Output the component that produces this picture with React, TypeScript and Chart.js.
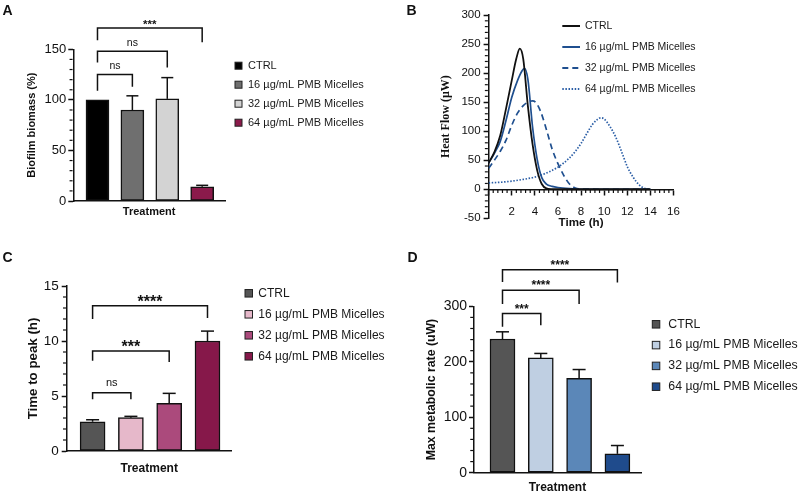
import React, { useEffect, useRef } from 'react';
import { Chart, registerables } from 'chart.js';

Chart.register(...registerables);

const FONT = "'Liberation Sans', Arial, Helvetica, sans-serif";
const SERIF = "'Liberation Serif', 'Times New Roman', serif";
const INK = '#111111';

// ---------- shared categories ----------
const categories = ['CTRL', '16 µg/mL PMB Micelles', '32 µg/mL PMB Micelles', '64 µg/mL PMB Micelles'];
const barX = [1, 2, 3, 4];

// ---------- Panel A: biofilm biomass ----------
const biomassMean = [100, 90, 101, 14];
const biomassSD = [0, 14, 21, 1.5];
const biomassColors = ['#000000', '#6f6f6f', '#d3d3d3', '#8b1a4b'];
const bracketTargetsA = [2, 3, 4];
const bracketLevelsA = [125, 148, 171];
const bracketLegLA = [109, 137, 159];
const bracketLegRA = [113, 132, 157];
const bracketLabelsA = ['ns', 'ns', '***'];
const ticksA = [0, 50, 100, 150];

// ---------- Panel B: heat flow curves ----------
const ctrlTime = [0, 0.5, 1.0, 1.5, 2.0, 2.4, 2.7, 3.0, 3.4, 3.8, 4.2, 4.6, 5.0, 5.5, 6, 8, 10, 12, 14];
const ctrlFlow = [45, 64, 92, 138, 187, 225, 242, 224, 143, 78, 33, 9, 1.5, 0.3, 0, 0, 0, 0, 0];
const pmb16Time = [0, 0.5, 1.0, 1.5, 2.0, 2.5, 2.9, 3.1, 3.4, 3.8, 4.2, 4.6, 5.0, 5.5, 6.0, 7.0, 8.0, 10, 12, 14];
const pmb16Flow = [45, 62, 82, 118, 158, 187, 204, 208, 189, 108, 52, 20, 9, 5, 3, 1, 0, 0, 0, 0];
const pmb32Time = [0, 0.5, 1.0, 1.5, 2.0, 2.5, 3.0, 3.5, 3.8, 4.1, 4.5, 5.0, 5.5, 6.0, 6.5, 7.0, 7.5, 8.0, 10, 12, 14];
const pmb32Flow = [36, 50, 65, 84, 110, 131, 144, 151, 152, 149, 134, 103, 69, 44, 24, 9, 2, 0.5, 0, 0, 0];
const pmb64Time = [0, 1, 2, 3, 4, 5, 6, 7, 7.5, 8, 8.5, 9, 9.4, 9.7, 10, 10.5, 11, 11.5, 12, 12.5, 13, 13.5, 14];
const pmb64Flow = [11, 12, 14, 17, 21, 28, 38, 54, 65, 79, 96, 112, 120, 123, 121, 108, 90, 65, 39, 21, 8, 1.5, 0];
const curveColors = ['#111111', '#1f4f8f', '#1f4f8f', '#2b5ea6'];
const curveDashes = [[], [], [6, 4], [1.5, 1.6]];

// ---------- Panel C: time to peak ----------
const peakMean = [2.66, 3.03, 4.33, 10.0];
const peakSD = [0.18, 0.12, 0.91, 0.9];
const peakColors = ['#555555', '#e6b8ca', '#ab4a7c', '#86184a'];
const bracketTargetsC = [2, 3, 4];
const bracketLevelsC = [5.3, 9.1, 13.2];
const bracketLegLC = [4.7, 8.2, 12.0];
const bracketLegRC = [4.7, 8.1, 12.1];
const bracketLabelsC = ['ns', '***', '****'];

// ---------- Panel D: max metabolic rate ----------
const rateMean = [241, 207, 170, 34];
const rateSD = [13, 8, 16, 15];
const rateColors = ['#555555', '#bfcfe2', '#5b87b8', '#1f4b8c'];
const bracketTargetsD = [2, 3, 4];
const bracketLevelsD = [287, 329, 366];
const bracketLegLD = [263, 304, 344];
const bracketLegRD = [266, 304, 343];
const bracketLabelsD = ['***', '****', '****'];

function line(ctx: CanvasRenderingContext2D, x1: number, y1: number, x2: number, y2: number) {
  ctx.beginPath();
  ctx.moveTo(x1, y1);
  ctx.lineTo(x2, y2);
  ctx.stroke();
}

const decor = {
  id: 'decor',
  afterDatasetsDraw(chart: any, _a: any, o: any) {
    if (!o || !o.errors) return;
    const ctx = chart.ctx as CanvasRenderingContext2D;
    const xs = chart.scales.x;
    const ys = chart.scales.y;
    ctx.save();
    ctx.strokeStyle = INK;
    ctx.lineWidth = 1.5;
    const means = o.means as number[];
    means.forEach((m: number, i: number) => {
      const sd = o.errors[i];
      if (!sd) return;
      const px = xs.getPixelForValue(barX[i]);
      const yTop = ys.getPixelForValue(m + sd);
      const yBar = ys.getPixelForValue(m);
      line(ctx, px, yBar, px, yTop);
      line(ctx, px - o.cap / 2, yTop, px + o.cap / 2, yTop);
    });
    ctx.restore();
  },
  afterDraw(chart: any, _a: any, o: any) {
    if (!o) return;
    const ctx = chart.ctx as CanvasRenderingContext2D;
    const xs = chart.scales.x;
    const ys = chart.scales.y;
    const area = chart.chartArea;
    ctx.save();
    ctx.strokeStyle = INK;
    ctx.fillStyle = INK;
    // minor y ticks
    if (o.minorY) {
      const { step, major, len } = o.minorY;
      const n = Math.round((ys.max - ys.min) / step);
      ctx.lineWidth = 1.2;
      for (let k = 0; k <= n; k++) {
        const v = ys.min + k * step;
        const r = v / major;
        if (Math.abs(r - Math.round(r)) < 1e-6) continue;
        const py = ys.getPixelForValue(v);
        line(ctx, area.left - 0.75, py, area.left - 0.75 - len, py);
      }
    }
    // minor x ticks (axis at y = 0)
    if (o.minorX) {
      const { step, major, len } = o.minorX;
      const n = Math.round((xs.max - xs.min) / step);
      const y0 = ys.getPixelForValue(0);
      ctx.lineWidth = 1.2;
      for (let k = 0; k <= n; k++) {
        const v = xs.min + k * step;
        const r = v / major;
        if (Math.abs(r - Math.round(r)) < 1e-6) continue;
        const px = xs.getPixelForValue(v);
        line(ctx, px, y0 + 0.75, px, y0 + 0.75 + len);
      }
    }
    // significance brackets
    if (o.brackets) {
      const b = o.brackets;
      const xl = xs.getPixelForValue(barX[0]);
      ctx.lineWidth = 1.5;
      (b.targets as number[]).forEach((t: number, i: number) => {
        const xr = xs.getPixelForValue(t);
        const yl = ys.getPixelForValue(b.levels[i]);
        ctx.beginPath();
        ctx.moveTo(xl, ys.getPixelForValue(b.legL[i]));
        ctx.lineTo(xl, yl);
        ctx.lineTo(xr, yl);
        ctx.lineTo(xr, ys.getPixelForValue(b.legR[i]));
        ctx.stroke();
        const lab = b.labels[i] as string;
        const isNs = lab === 'ns';
        ctx.font = isNs ? `${b.nsSize}px ${FONT}` : `bold ${b.starSize}px ${FONT}`;
        ctx.textAlign = 'center';
        ctx.textBaseline = 'alphabetic';
        const m = ctx.measureText(lab);
        const gap = isNs ? b.nsGap : b.starGap;
        const base = yl - gap - m.actualBoundingBoxDescent;
        ctx.fillText(lab, (xl + xr) / 2, base);
      });
    }
    // bar legend
    if (o.legend) {
      const L = o.legend;
      const colors = chart.data.datasets[0].backgroundColor as string[];
      ctx.font = `${L.size}px ${FONT}`;
      ctx.textBaseline = 'middle';
      ctx.textAlign = 'left';
      categories.forEach((c, i) => {
        const y = L.y + i * L.dy;
        ctx.fillStyle = colors[i];
        ctx.fillRect(L.x, y - L.box / 2, L.box, L.box);
        ctx.strokeStyle = '#222';
        ctx.lineWidth = 1;
        ctx.strokeRect(L.x, y - L.box / 2, L.box, L.box);
        ctx.fillStyle = '#1a1a1a';
        ctx.fillText(c, L.tx, y);
      });
    }
    // line legend
    if (o.lineLegend) {
      const L = o.lineLegend;
      ctx.font = `${L.size}px ${FONT}`;
      ctx.textBaseline = 'middle';
      ctx.textAlign = 'left';
      chart.data.datasets.forEach((ds: any, i: number) => {
        const y = L.y + i * L.dy;
        ctx.strokeStyle = ds.borderColor;
        ctx.lineWidth = 2;
        ctx.setLineDash(ds.borderDash || []);
        line(ctx, L.x1, y, L.x2, y);
        ctx.setLineDash([]);
        ctx.fillStyle = '#1a1a1a';
        ctx.fillText(ds.label, L.tx, y);
      });
    }
    // panel letter
    if (o.letter) {
      ctx.font = `bold ${o.letter.size}px ${FONT}`;
      ctx.fillStyle = '#111';
      ctx.textAlign = 'left';
      ctx.textBaseline = 'alphabetic';
      ctx.fillText(o.letter.text, o.letter.x, o.letter.y);
    }
    ctx.restore();
  },
};

function axisCommon(tickSize: number, tickPad: number) {
  return {
    grid: { display: true, drawOnChartArea: false, drawTicks: true, tickLength: 5, tickWidth: 1.5, tickColor: INK, offset: false },
    border: { display: true, color: INK, width: 1.5 },
    ticks: { font: { family: FONT, size: tickSize }, color: INK, padding: tickPad },
  };
}

function barConfig(p: any) {
  const yc = axisCommon(p.tickSize, p.tickPad);
  return {
    type: 'bar',
    data: {
      datasets: [
        {
          data: barX.map((x, i) => ({ x, y: p.means[i] })),
          backgroundColor: p.colors,
          borderColor: INK,
          borderWidth: 1.5,
          borderSkipped: false,
          barThickness: p.barW,
        },
      ],
    },
    options: {
      responsive: false,
      animation: false,
      events: [],
      layout: { padding: p.padding },
      plugins: {
        legend: { display: false },
        tooltip: { enabled: false },
        decor: {
          means: p.means,
          errors: p.errors,
          cap: p.cap,
          minorY: p.minorY,
          brackets: p.brackets,
          legend: p.legend,
          letter: p.letter,
        },
      },
      scales: {
        x: {
          type: 'linear',
          min: p.xMin,
          max: p.xMax,
          offset: false,
          ticks: { display: false },
          grid: { display: true, drawOnChartArea: false, drawTicks: false, offset: false },
          border: { display: true, color: INK, width: 1.5 },
          title: { display: true, text: 'Treatment', color: INK, padding: 0, font: { family: FONT, size: p.xTitleSize, weight: 'bold' } },
          afterFit: (s: any) => {
            s.height = p.xH;
          },
        },
        y: {
          min: 0,
          max: p.yMax,
          ...yc,
          ticks: { ...yc.ticks, stepSize: p.yStep },
          title: { display: true, text: p.yTitle, color: INK, padding: 0, font: { family: FONT, size: p.yTitleSize, weight: 'bold' } },
          afterFit: (s: any) => {
            s.width = p.yW;
          },
        },
      },
    },
    plugins: [decor],
  };
}

const configA = () =>
  barConfig({
    means: biomassMean,
    errors: biomassSD,
    colors: biomassColors,
    barW: 23,
    cap: 12,
    xMin: 0.307,
    xMax: 4.654,
    yMax: ticksA[ticksA.length - 1],
    yStep: ticksA[1] - ticksA[0],
    tickSize: 13,
    tickPad: 2,
    yTitle: 'Biofilm biomass (%)',
    yTitleSize: 11,
    xTitleSize: 11,
    yW: 47.6,
    xH: 17.9,
    padding: { left: 25.7, right: 575, top: 49.3, bottom: 276.1 },
    minorY: { step: 10, major: 50, len: 3 },
    brackets: {
      targets: bracketTargetsA,
      levels: bracketLevelsA,
      legL: bracketLegLA,
      legR: bracketLegRA,
      labels: bracketLabelsA,
      nsSize: 10.5,
      starSize: 11.5,
      nsGap: 5.5,
      starGap: 3.3,
    },
    legend: { x: 235, tx: 248, y: 65.7, dy: 19, box: 7, size: 11 },
    letter: { text: 'A', x: 2.5, y: 15, size: 14 },
  });

const configC = () =>
  barConfig({
    means: peakMean,
    errors: peakSD,
    colors: peakColors,
    barW: 25,
    cap: 13,
    xMin: 0.324,
    xMax: 4.632,
    yMax: 15,
    yStep: 5,
    tickSize: 13.5,
    tickPad: 3,
    yTitle: 'Time to peak (h)',
    yTitleSize: 13.3,
    xTitleSize: 12,
    yW: 41.4,
    xH: 24.5,
    padding: { left: 25.3, right: 568.3, top: 286, bottom: 19.5 },
    minorY: { step: 1, major: 5, len: 3 },
    brackets: {
      targets: bracketTargetsC,
      levels: bracketLevelsC,
      legL: bracketLegLC,
      legR: bracketLegRC,
      labels: bracketLabelsC,
      nsSize: 11,
      starSize: 16,
      nsGap: 6.5,
      starGap: 3.8,
    },
    legend: { x: 245, tx: 258.3, y: 293.3, dy: 21, box: 7.5, size: 12 },
    letter: { text: 'C', x: 2.5, y: 261.7, size: 14 },
  });

const configD = () =>
  barConfig({
    means: rateMean,
    errors: rateSD,
    colors: rateColors,
    barW: 25,
    cap: 13,
    xMin: 0.256,
    xMax: 4.616,
    yMax: 300,
    yStep: 100,
    tickSize: 14,
    tickPad: 2,
    yTitle: 'Max metabolic rate (uW)',
    yTitleSize: 12.3,
    xTitleSize: 12,
    yW: 49.7,
    xH: 21.8,
    padding: { left: 424.3, right: 159, top: 306.3, bottom: 0.5 },
    minorY: { step: 20, major: 100, len: 3 },
    brackets: {
      targets: bracketTargetsD,
      levels: bracketLevelsD,
      legL: bracketLegLD,
      legR: bracketLegRD,
      labels: bracketLabelsD,
      nsSize: 11,
      starSize: 12,
      nsGap: 6,
      starGap: 5,
    },
    legend: { x: 652.3, tx: 668.3, y: 324.3, dy: 20.8, box: 7.5, size: 12.3 },
    letter: { text: 'D', x: 407.5, y: 261.7, size: 14 },
  });

const pts = (t: number[], v: number[]) => t.map((x, i) => ({ x, y: v[i] }));

const configB = () => {
  const yc = axisCommon(11.5, 3);
  const xc = axisCommon(11.5, 11);
  const series = [
    [ctrlTime, ctrlFlow],
    [pmb16Time, pmb16Flow],
    [pmb32Time, pmb32Flow],
    [pmb64Time, pmb64Flow],
  ];
  return {
    type: 'line',
    data: {
      datasets: series.map(([t, v], i) => ({
        label: categories[i],
        data: pts(t, v),
        borderColor: curveColors[i],
        borderDash: curveDashes[i],
        borderWidth: i === 0 ? 1.8 : 1.7,
        pointRadius: 0,
        fill: false,
        cubicInterpolationMode: 'monotone',
      })),
    },
    options: {
      responsive: false,
      animation: false,
      events: [],
      layout: { padding: { left: 439.1, right: 126.5, top: 15, bottom: 276.7 } },
      plugins: {
        legend: { display: false },
        tooltip: { enabled: false },
        decor: {
          minorY: { step: 10, major: 50, len: 3 },
          minorX: { step: 0.4, major: 2, len: 3 },
          lineLegend: { x1: 562.3, x2: 580, tx: 585, y: 26, dy: 21, size: 10.5 },
          letter: { text: 'B', x: 406.5, y: 15, size: 14 },
        },
      },
      scales: {
        x: {
          type: 'linear',
          min: 0,
          max: 16,
          position: { y: 0 },
          ...xc,
          ticks: {
            ...xc.ticks,
            stepSize: 2,
            autoSkip: false,
            maxRotation: 0,
            callback: (v: any) => (v === 0 ? '' : String(v)),
          },
          title: { display: true, text: 'Time (h)', color: INK, padding: 0, font: { family: FONT, size: 11.6, weight: 'bold' } },
          afterFit: (s: any) => {
            s.height = 40;
          },
        },
        y: {
          type: 'linear',
          min: -50,
          max: 300,
          ...yc,
          ticks: { ...yc.ticks, stepSize: 50 },
          title: { display: true, text: 'Heat Flow (μW)', color: INK, padding: 0, font: { family: SERIF, size: 12, weight: 'bold' } },
          afterFit: (s: any) => {
            s.width = 49.5;
          },
        },
      },
    },
    plugins: [decor],
  };
};

function ChartCanvas({ make }: { make: () => any }) {
  const ref = useRef<HTMLCanvasElement | null>(null);
  useEffect(() => {
    if (!ref.current) return;
    const c = new Chart(ref.current, make());
    return () => c.destroy();
  }, [make]);
  return (
    <canvas
      ref={ref}
      width={800}
      height={495}
      style={{ position: 'absolute', left: 0, top: 0, width: 800, height: 495 }}
    />
  );
}

export default function App() {
  return (
    <div style={{ position: 'absolute', left: 0, top: 0, width: 800, height: 495, background: '#ffffff', overflow: 'hidden' }}>
      <ChartCanvas make={configA} />
      <ChartCanvas make={configB} />
      <ChartCanvas make={configC} />
      <ChartCanvas make={configD} />
    </div>
  );
}
